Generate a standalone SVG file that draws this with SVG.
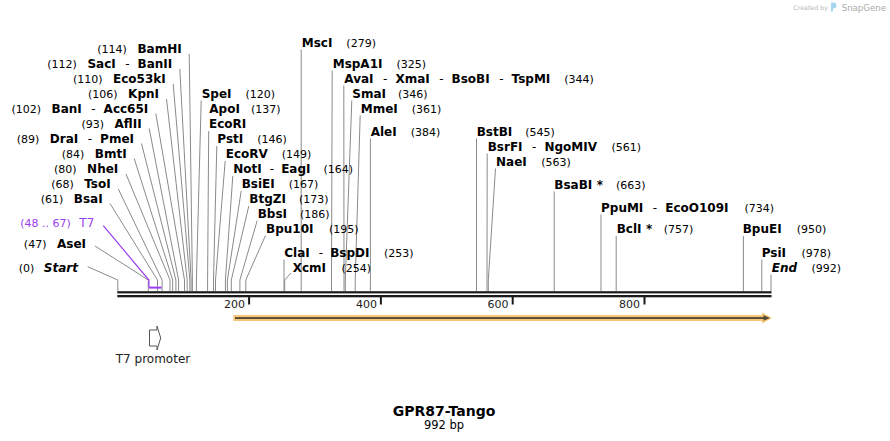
<svg xmlns="http://www.w3.org/2000/svg" width="890" height="441" viewBox="0 0 890 441">
<style>
text{font-family:"DejaVu Sans",Verdana,"Liberation Sans",sans-serif;fill:#000}
.L{text-anchor:end}
.n{font-size:12px;font-weight:bold}
.i{font-size:12px;font-weight:bold;font-style:italic}
.p{font-size:11px}
.d{font-size:12px}
.pu{fill:#9b3ef0}
.leader{fill:none;stroke:#8a8a8a;stroke-width:1}
.pl{fill:none;stroke:#9b3ef0;stroke-width:1.2}
.tick{fill:#1a1a1a}
.tl{font-size:11px;fill:#222;text-anchor:end}
</style>
<rect width="890" height="441" fill="#fff"/>

<g id="watermark">
<text x="793.3" y="9.5" style="font-size:6.3px;fill:#b9b9b9">Created by</text>
<path d="M831,2.5 h2.5 a3,3 0 0 1 0,6 h-0.5 v3 h-2 z" fill="#a6d6ee"/>
<text x="841.7" y="10.8" style="font-size:8.6px;fill:#ababab">SnapGene</text>
</g>

<g id="connectors">
<path class="leader" d="M189.2,54 L192.4,280 V291"/>
<path class="leader" d="M179.8,69 L191.1,280 V291"/>
<path class="leader" d="M173.2,84 L189.8,280 V291"/>
<path class="leader" d="M166.5,99 L187.2,280 V291"/>
<path class="leader" d="M155.8,113.5 L184.5,280 V291"/>
<path class="leader" d="M149.2,128.5 L178.6,280 V291"/>
<path class="leader" d="M141.5,143.5 L175.9,280 V291"/>
<path class="leader" d="M134.2,158.5 L172.7,280 V291"/>
<path class="leader" d="M126,174 L170,280 V291"/>
<path class="leader" d="M118.3,189 L162.1,280 V291"/>
<path class="leader" d="M110,203.5 L157.5,280 V291"/>
<path class="leader" d="M95,246 L148.3,280 V291"/>
<path class="leader" d="M87.7,266.7 L117.8,280 V291"/>
<path class="pl" d="M103.3,225.7 L148.9,280 V287"/>

<path class="leader" d="M301.2,49.5 V291"/>
<path class="leader" d="M332.2,70.5 L331.5,280 V291"/>
<path class="leader" d="M343.8,85.5 L344,280 V291"/>
<path class="leader" d="M201.2,100.5 L196.4,280 V291"/>
<path class="leader" d="M351.8,100.5 L345.3,280 V291"/>
<path class="leader" d="M360.2,115.5 L355.2,280 V291"/>
<path class="leader" d="M208.7,131 L207.6,280 V291"/>
<path class="leader" d="M216.8,146 L213.5,280 V291"/>
<path class="leader" d="M370.4,138.5 V291"/>
<path class="leader" d="M225.2,161 L215.5,280 V291"/>
<path class="leader" d="M232.8,176 L225.4,280 V291"/>
<path class="leader" d="M241.2,191 L227.4,280 V291"/>
<path class="leader" d="M248.8,206 L231.3,280 V291"/>
<path class="leader" d="M257.2,220.5 L239.9,280 V291"/>
<path class="leader" d="M265.5,235.5 L245.8,280 V291"/>
<path class="leader" d="M284,259.5 V291"/>
<path class="leader" d="M291,273 L284.7,280 V291"/>
<path class="leader" d="M476.5,138.5 V291"/>
<path class="leader" d="M487.2,153.5 L487,280 V291"/>
<path class="leader" d="M495.5,168.5 L488.3,280 V291"/>
<path class="leader" d="M554.2,191.5 V291"/>
<path class="leader" d="M601,214.5 V291"/>
<path class="leader" d="M616.2,236 V291"/>
<path class="leader" d="M743.4,236 V291"/>
<path class="leader" d="M761.8,259.5 V291"/>
<path class="leader" d="M771,274.5 V291"/>
</g>

<g id="backbone">
<rect x="117.3" y="291.2" width="654.2" height="2.2" fill="#1a1a1a"/>
<rect x="117.3" y="295" width="654.2" height="2.3" fill="#1a1a1a"/>
<rect class="tick" x="248.1" y="297" width="2" height="7.5"/>
<rect class="tick" x="379.9" y="297" width="2" height="7.5"/>
<rect class="tick" x="511.7" y="297" width="2" height="7.5"/>
<rect class="tick" x="643.5" y="297" width="2" height="7.5"/>
<text class="tl" x="245" y="307.5">200</text>
<text class="tl" x="377" y="307.5">400</text>
<text class="tl" x="508.5" y="307.5">600</text>
<text class="tl" x="640" y="307.5">800</text>
</g>

<g id="feature-orf">
<rect x="233.3" y="315" width="531" height="6" fill="#f8c677"/>
<polygon points="762,312.5 772,318 762,323.5" fill="#f8c677"/>
<rect x="235" y="317.1" width="530" height="1.9" fill="#574a35"/>
<polygon points="763.5,315.3 770,318 763.5,320.7" fill="#574a35"/>
</g>

<g id="T7-feature">
<rect x="148.9" y="286.6" width="12.6" height="2" fill="#9b3ef0"/>
<text class="L" x="94.3" y="227"><tspan class="p pu">(48 .. 67)</tspan><tspan class="d pu" dx="8.5">T7</tspan></text>
</g>

<g id="T7-promoter">
<path d="M149.5,330 H157 V326 L160.7,338 L157,350 V346 H149.5 Z" fill="#fff" stroke="#555" stroke-width="1"/>
<text x="153" y="363" style="font-size:12px;fill:#222;text-anchor:middle">T7 promoter</text>
</g>

<g id="left-labels">
<g id="BamHI"><text class="L" x="181.7" y="53"><tspan class="p">(114)</tspan><tspan class="n" dx="10.5">BamHI</tspan></text></g>
<g id="SacI"><text class="L" x="172.3" y="68"><tspan class="p">(112)</tspan><tspan class="n" dx="10.5">SacI</tspan><tspan class="d" dx="9.5">-</tspan><tspan class="n" dx="8">BanII</tspan></text></g>
<g id="Eco53kI"><text class="L" x="165.7" y="83"><tspan class="p">(110)</tspan><tspan class="n" dx="10.5">Eco53kI</tspan></text></g>
<g id="KpnI"><text class="L" x="159" y="98"><tspan class="p">(106)</tspan><tspan class="n" dx="10.5">KpnI</tspan></text></g>
<g id="BanI"><text class="L" x="148.3" y="112.5"><tspan class="p">(102)</tspan><tspan class="n" dx="10.5">BanI</tspan><tspan class="d" dx="9.5">-</tspan><tspan class="n" dx="8">Acc65I</tspan></text></g>
<g id="AflII"><text class="L" x="141.7" y="127.5"><tspan class="p">(93)</tspan><tspan class="n" dx="10.5">AflII</tspan></text></g>
<g id="DraI"><text class="L" x="134" y="142.5"><tspan class="p">(89)</tspan><tspan class="n" dx="10.5">DraI</tspan><tspan class="d" dx="9.5">-</tspan><tspan class="n" dx="8">PmeI</tspan></text></g>
<g id="BmtI"><text class="L" x="126.7" y="157.5"><tspan class="p">(84)</tspan><tspan class="n" dx="10.5">BmtI</tspan></text></g>
<g id="NheI"><text class="L" x="118.3" y="172.5"><tspan class="p">(80)</tspan><tspan class="n" dx="10.5">NheI</tspan></text></g>
<g id="TsoI"><text class="L" x="110.7" y="187.5"><tspan class="p">(68)</tspan><tspan class="n" dx="10.5">TsoI</tspan></text></g>
<g id="BsaI"><text class="L" x="102.7" y="202.5"><tspan class="p">(61)</tspan><tspan class="n" dx="10.5">BsaI</tspan></text></g>
<g id="AseI"><text class="L" x="86" y="248"><tspan class="p">(47)</tspan><tspan class="n" dx="10.5">AseI</tspan></text></g>
<g id="Start"><text class="L" x="78" y="272"><tspan class="p">(0)</tspan><tspan class="i" dx="9.5">Start</tspan></text></g>
</g>

<g id="right-labels">
<g id="MscI"><text x="301.7" y="46.5"><tspan class="n">MscI</tspan><tspan class="p" dx="14">(279)</tspan></text></g>
<g id="MspA1I"><text x="332.7" y="67.5"><tspan class="n">MspA1I</tspan><tspan class="p" dx="14">(325)</tspan></text></g>
<g id="AvaI"><text x="344.3" y="82.5"><tspan class="n">AvaI</tspan><tspan class="d" dx="9.5">-</tspan><tspan class="n" dx="8">XmaI</tspan><tspan class="d" dx="9.5">-</tspan><tspan class="n" dx="8">BsoBI</tspan><tspan class="d" dx="9.5">-</tspan><tspan class="n" dx="8">TspMI</tspan><tspan class="p" dx="14">(344)</tspan></text></g>
<g id="SpeI"><text x="201.7" y="97.5"><tspan class="n">SpeI</tspan><tspan class="p" dx="14">(120)</tspan></text></g>
<g id="SmaI"><text x="352.3" y="97.5"><tspan class="n">SmaI</tspan><tspan class="p" dx="12">(346)</tspan></text></g>
<g id="ApoI"><text x="209.3" y="112.5"><tspan class="n">ApoI</tspan><tspan class="p" dx="11">(137)</tspan></text></g>
<g id="MmeI"><text x="360.7" y="112.5"><tspan class="n">MmeI</tspan><tspan class="p" dx="14">(361)</tspan></text></g>
<g id="EcoRI"><text x="209" y="128"><tspan class="n">EcoRI</tspan></text></g>
<g id="PstI"><text x="217.3" y="143"><tspan class="n">PstI</tspan><tspan class="p" dx="14">(146)</tspan></text></g>
<g id="AleI"><text x="370.7" y="135.5"><tspan class="n">AleI</tspan><tspan class="p" dx="14">(384)</tspan></text></g>
<g id="EcoRV"><text x="225.7" y="158"><tspan class="n">EcoRV</tspan><tspan class="p" dx="14">(149)</tspan></text></g>
<g id="NotI"><text x="233.3" y="173"><tspan class="n">NotI</tspan><tspan class="d" dx="8">-</tspan><tspan class="n" dx="7">EagI</tspan><tspan class="p" dx="13">(164)</tspan></text></g>
<g id="BsiEI"><text x="241.7" y="188"><tspan class="n">BsiEI</tspan><tspan class="p" dx="14">(167)</tspan></text></g>
<g id="BtgZI"><text x="249.3" y="203"><tspan class="n">BtgZI</tspan><tspan class="p" dx="13">(173)</tspan></text></g>
<g id="BbsI"><text x="257.7" y="217.5"><tspan class="n">BbsI</tspan><tspan class="p" dx="13">(186)</tspan></text></g>
<g id="Bpu10I"><text x="266" y="232.5"><tspan class="n">Bpu10I</tspan><tspan class="p" dx="15.5">(195)</tspan></text></g>
<g id="ClaI"><text x="284.3" y="256.5"><tspan class="n">ClaI</tspan><tspan class="d" dx="9">-</tspan><tspan class="n" dx="7">BspDI</tspan><tspan class="p" dx="14.5">(253)</tspan></text></g>
<g id="XcmI"><text x="292.7" y="271.5"><tspan class="n">XcmI</tspan><tspan class="p" dx="15.5">(254)</tspan></text></g>
<g id="BstBI"><text x="476.7" y="135.5"><tspan class="n">BstBI</tspan><tspan class="p" dx="13">(545)</tspan></text></g>
<g id="BsrFI"><text x="487.7" y="150.5"><tspan class="n">BsrFI</tspan><tspan class="d" dx="9.5">-</tspan><tspan class="n" dx="8">NgoMIV</tspan><tspan class="p" dx="14.5">(561)</tspan></text></g>
<g id="NaeI"><text x="496" y="165.5"><tspan class="n">NaeI</tspan><tspan class="p" dx="14.5">(563)</tspan></text></g>
<g id="BsaBI"><text x="554.3" y="188.5"><tspan class="n">BsaBI</tspan><tspan class="n" dx="4.5">*</tspan><tspan class="p" dx="13">(663)</tspan></text></g>
<g id="PpuMI"><text x="601" y="211.5"><tspan class="n">PpuMI</tspan><tspan class="d" dx="9.5">-</tspan><tspan class="n" dx="8">EcoO109I</tspan><tspan class="p" dx="16">(734)</tspan></text></g>
<g id="BclI"><text x="616.7" y="233"><tspan class="n">BclI</tspan><tspan class="n" dx="4.5">*</tspan><tspan class="p" dx="11.5">(757)</tspan></text></g>
<g id="BpuEI"><text x="742.7" y="233"><tspan class="n">BpuEI</tspan><tspan class="p" dx="15">(950)</tspan></text></g>
<g id="PsiI"><text x="761.7" y="256.5"><tspan class="n">PsiI</tspan><tspan class="p" dx="15.5">(978)</tspan></text></g>
<g id="End"><text x="771.7" y="271.5"><tspan class="i">End</tspan><tspan class="p" dx="14.5">(992)</tspan></text></g>
</g>

<g id="title">
<text x="444" y="415.5" style="font-size:14px;font-weight:bold;text-anchor:middle">GPR87-Tango</text>
<text x="444" y="428.5" style="font-size:11.5px;text-anchor:middle">992 bp</text>
</g>
</svg>
